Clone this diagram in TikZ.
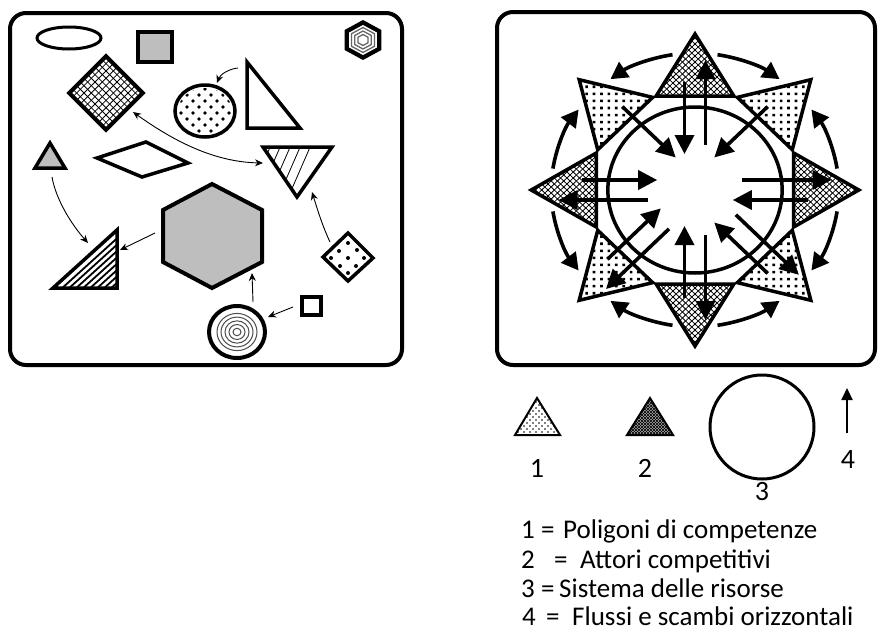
\documentclass[tikz,border=0pt]{standalone}
\usepackage{fontspec}
\setmainfont{Carlito}
\usetikzlibrary{arrows.meta}
\definecolor{shapegray}{RGB}{190,190,190}
\begin{document}
\begin{tikzpicture}[x=1pt,y=-1pt,
  shp/.style={draw=black, line width=3.5pt},
  thinarr/.style={line width=0.9pt, -{Stealth[length=8pt,width=7pt]}},
  bigarr/.style={line width=3.6pt, -{Triangle[length=19pt,width=19pt]}},
  arcarr/.style={line width=3.6pt, -{Triangle[length=17pt,width=18pt]}},
  hl/.style={line width=0.8pt},
  txt/.style={inner sep=0pt, anchor=base west, font=\fontsize{27}{30}\selectfont},
  num/.style={inner sep=0pt, font=\fontsize{28}{30}\selectfont},
]
\fill[white] (0,0) rectangle (878,632);
\useasboundingbox (0,0) rectangle (878,632);

% ---------------- left panel ----------------
\draw[line width=4pt, rounded corners=16pt] (10,13) rectangle (402,365);

% ellipse
\draw[shp, line width=3pt] (69,38) ellipse [x radius=32, y radius=11];
% gray square
\draw[shp, fill=shapegray, line width=4pt] (138,32) rectangle (172,62);
% small concentric hexagon
\fill[shift={(363,40)}, scale=20] (0,-1) -- (0.92,-0.5) -- (0.92,0.5) -- (0,1) -- (-0.92,0.5) -- (-0.92,-0.5) -- cycle;
\fill[white, shift={(363,40)}, scale=15] (0,-1) -- (0.92,-0.5) -- (0.92,0.5) -- (0,1) -- (-0.92,0.5) -- (-0.92,-0.5) -- cycle;
\foreach \r in {12.5,9,5.5}
  \draw[black!60, line width=1.3pt, shift={(363,40)}, scale=\r] (0,-1) -- (0.92,-0.5) -- (0.92,0.5) -- (0,1) -- (-0.92,0.5) -- (-0.92,-0.5) -- cycle;

% cross-hatched diamond
\begin{scope}[shift={(106,93)}, rotate=45]
  \fill[white] (-26,-26) rectangle (26,26);
  \foreach \k in {-20.8,-15.6,...,20.9} {
    \draw[hl] (\k,-26) -- (\k,26);
    \draw[hl] (-26,\k) -- (26,\k);
  }
  \draw[shp, line width=4pt] (-26,-26) rectangle (26,26);
\end{scope}

% dotted circle
\begin{scope}
  \clip (205,111) ellipse [x radius=27, y radius=23];
  \foreach \x in {175,187,...,235} \foreach \y in {83,95,...,140} {
    \fill (\x,\y) circle [radius=1.8];
    \fill (\x+6,\y+6) circle [radius=1.8];
  }
\end{scope}
\draw[shp] (205,111) ellipse [x radius=30, y radius=26];

% white right triangle
\draw[shp, fill=white] (247,62) -- (247,128) -- (300,128) -- cycle;
\draw[thinarr] (238,68) .. controls (228,69) and (220,75) .. (217,83);

% hatched down triangle
\begin{scope}
  \clip (263,147) -- (332,147) -- (297,197) -- cycle;
  \foreach \x in {247,257,...,287} \draw[line width=0.8pt] (\x,200) -- (\x+24,145);
\end{scope}
\draw[shp] (263,147) -- (332,147) -- (297,197) -- cycle;

% double arrow diamond <-> hatched triangle
\draw[line width=0.9pt, {Stealth[length=8pt,width=7pt]}-{Stealth[length=8pt,width=7pt]}]
  (133,112) .. controls (175,142) and (215,162) .. (263,163);

% parallelogram
\draw[shp, fill=white] (97,158) -- (146,142) -- (188,163) -- (142,177) -- cycle;

% small gray triangle
\draw[shp, fill=shapegray] (50,143) -- (65,168) -- (35,168) -- cycle;
\draw[thinarr] (52,177) .. controls (56,200) and (72,225) .. (88,243);

% hatched right triangle
\begin{scope}
  \clip (53,288) -- (117,288) -- (117,230) -- cycle;
  \foreach \d in {7,14,...,70} \draw[line width=1.8pt] (53+\d,290) -- ++(80,-72.5);
\end{scope}
\draw[shp] (53,288) -- (117,288) -- (117,230) -- cycle;

% big gray hexagon
\draw[shp, fill=shapegray, line width=4pt] (212,184) -- (262,210) -- (262,262) -- (212,288) -- (163,262) -- (163,210) -- cycle;
\draw[thinarr] (155,233) -- (120,250);

% small dotted diamond
\fill[white] (323,257) -- (348,233) -- (373,258) -- (348,281) -- cycle;
\foreach \p in {(348,243),(339,251),(357,250),(348,258),(331,258),(364,258),(340,266),(356,266),(348,273)}
  \fill \p circle [radius=2];
\draw[shp] (323,257) -- (348,233) -- (373,258) -- (348,281) -- cycle;
\draw[thinarr] (330,242) .. controls (322,225) and (317,208) .. (312,192);

% small square
\draw[shp, fill=white] (302,297) rectangle (321,315);

% concentric circle
\draw[shp, line width=4pt, fill=white] (237,332) ellipse [x radius=28, y radius=26];
\foreach \r in {4,8,12,16,20}
  \draw[line width=1pt, black!70] (237,332) ellipse [x radius=\r, y radius=0.93*\r];
\draw[thinarr] (293,307) -- (268,317);
\draw[thinarr] (253,302) -- (252,273);

% ---------------- right panel ----------------
\draw[line width=4pt, rounded corners=16pt] (497,12) rectangle (875,365);

\begin{scope}[shift={(695,190)}, yscale=-1, xscale=1.05]
  % triangles
  \foreach \a/\k in {0/1,90/1,180/1,270/1,45/2,135/2,225/2,315/2} {
    \begin{scope}[rotate=\a]
      \fill[white] (156,0) -- (94,37) -- (94,-37) -- cycle;
      \begin{scope}
        \clip (156,0) -- (94,37) -- (94,-37) -- cycle;
        \ifnum\k=1
          \foreach \c in {56,62,...,200} {
            \draw[hl] (\c-40,-40) -- (\c+40,40);
            \draw[hl] (\c+40,-40) -- (\c-40,40);
          }
        \else
          \foreach \x in {96,106,...,156} \foreach \y in {-40,-30,...,40} {
            \fill (\x,\y) circle [radius=1.8];
            \fill (\x+5,\y+5) circle [radius=1.8];
          }
        \fi
      \end{scope}
      \draw[line width=3.5pt] (156,0) -- (94,37) -- (94,-37) -- cycle;
    \end{scope}
  }
  % resource circle
  \draw[line width=3.5pt] (0,0) circle [radius=83];
  % flows
  \foreach \a/\s/\t in {0/1/-1, 90/1/-1, 180/1/-1, 270/-1/1, 45/1/-1, 135/1/-1, 225/0/-1, 315/0/1} {
    \begin{scope}[rotate=\a]
      \ifnum\s=0 \else
        \draw[bigarr] (45,\s*10) -- (130,\s*10);
      \fi
      \draw[bigarr] (108,\t*10) -- (36,\t*10);
    \end{scope}
  }
  % outer circulation arrows
  \foreach \a in {0,90,180,270} {
    \pgfmathsetmacro\sa{\a+9}
    \pgfmathsetmacro\ea{\a+36}
    \pgfmathsetmacro\sb{\a-9}
    \pgfmathsetmacro\eb{\a-36}
    \draw[arcarr] (\sa:137) arc [start angle=\sa, end angle=\ea, radius=137];
    \draw[arcarr] (\sb:137) arc [start angle=\sb, end angle=\eb, radius=137];
  }
\end{scope}

% ---------------- legend ----------------
\begin{scope}
  \clip (537,398) -- (560,435) -- (515,435) -- cycle;
  \foreach \x in {512,518,...,562} \foreach \y in {396,402,...,438} {
    \fill (\x,\y) circle [radius=0.9];
    \fill (\x+3,\y+3) circle [radius=0.9];
  }
\end{scope}
\draw[line width=2pt] (537,398) -- (560,435) -- (515,435) -- cycle;

\begin{scope}
  \clip (650,398) -- (673,435) -- (627,435) -- cycle;
  \fill[black!35] (620,390) rectangle (680,440);
  \foreach \c in {600,603,...,700} {
    \draw[line width=0.6pt] (\c-25,440) -- (\c+25,390);
    \draw[line width=0.6pt] (\c-25,390) -- (\c+25,440);
  }
\end{scope}
\draw[line width=2pt] (650,398) -- (673,435) -- (627,435) -- cycle;

\draw[line width=3pt] (762,427) circle [radius=52];
\draw[line width=2.2pt, -{Triangle[length=12pt,width=11pt]}] (847,433) -- (847,388);

\node[num] (n1) at (537,468) {1};
\node[num] (n2) at (645,468) {2};
\node[num] (n3) at (762,492) {3};
\node[num] (n4) at (848,460) {4};

\node[txt] (a1) at (521,538) {1};
\node[txt] (b1) at (541,538) {=};
\node[txt] (c1) at (563,538) {Poligoni di competenze};
\node[txt] (a2) at (521,568) {2};
\node[txt] (b2) at (554,568) {=};
\node[txt] (c2) at (580,568) {Attori competitivi};
\node[txt] (a3) at (521,597) {3};
\node[txt] (b3) at (541,597) {=};
\node[txt] (c3) at (559,597) {Sistema delle risorse};
\node[txt] (a4) at (522,625) {4};
\node[txt] (b4) at (546,625) {=};
\node[txt] (c4) at (572,625) {Flussi e scambi orizzontali};
\end{tikzpicture}
\end{document}
